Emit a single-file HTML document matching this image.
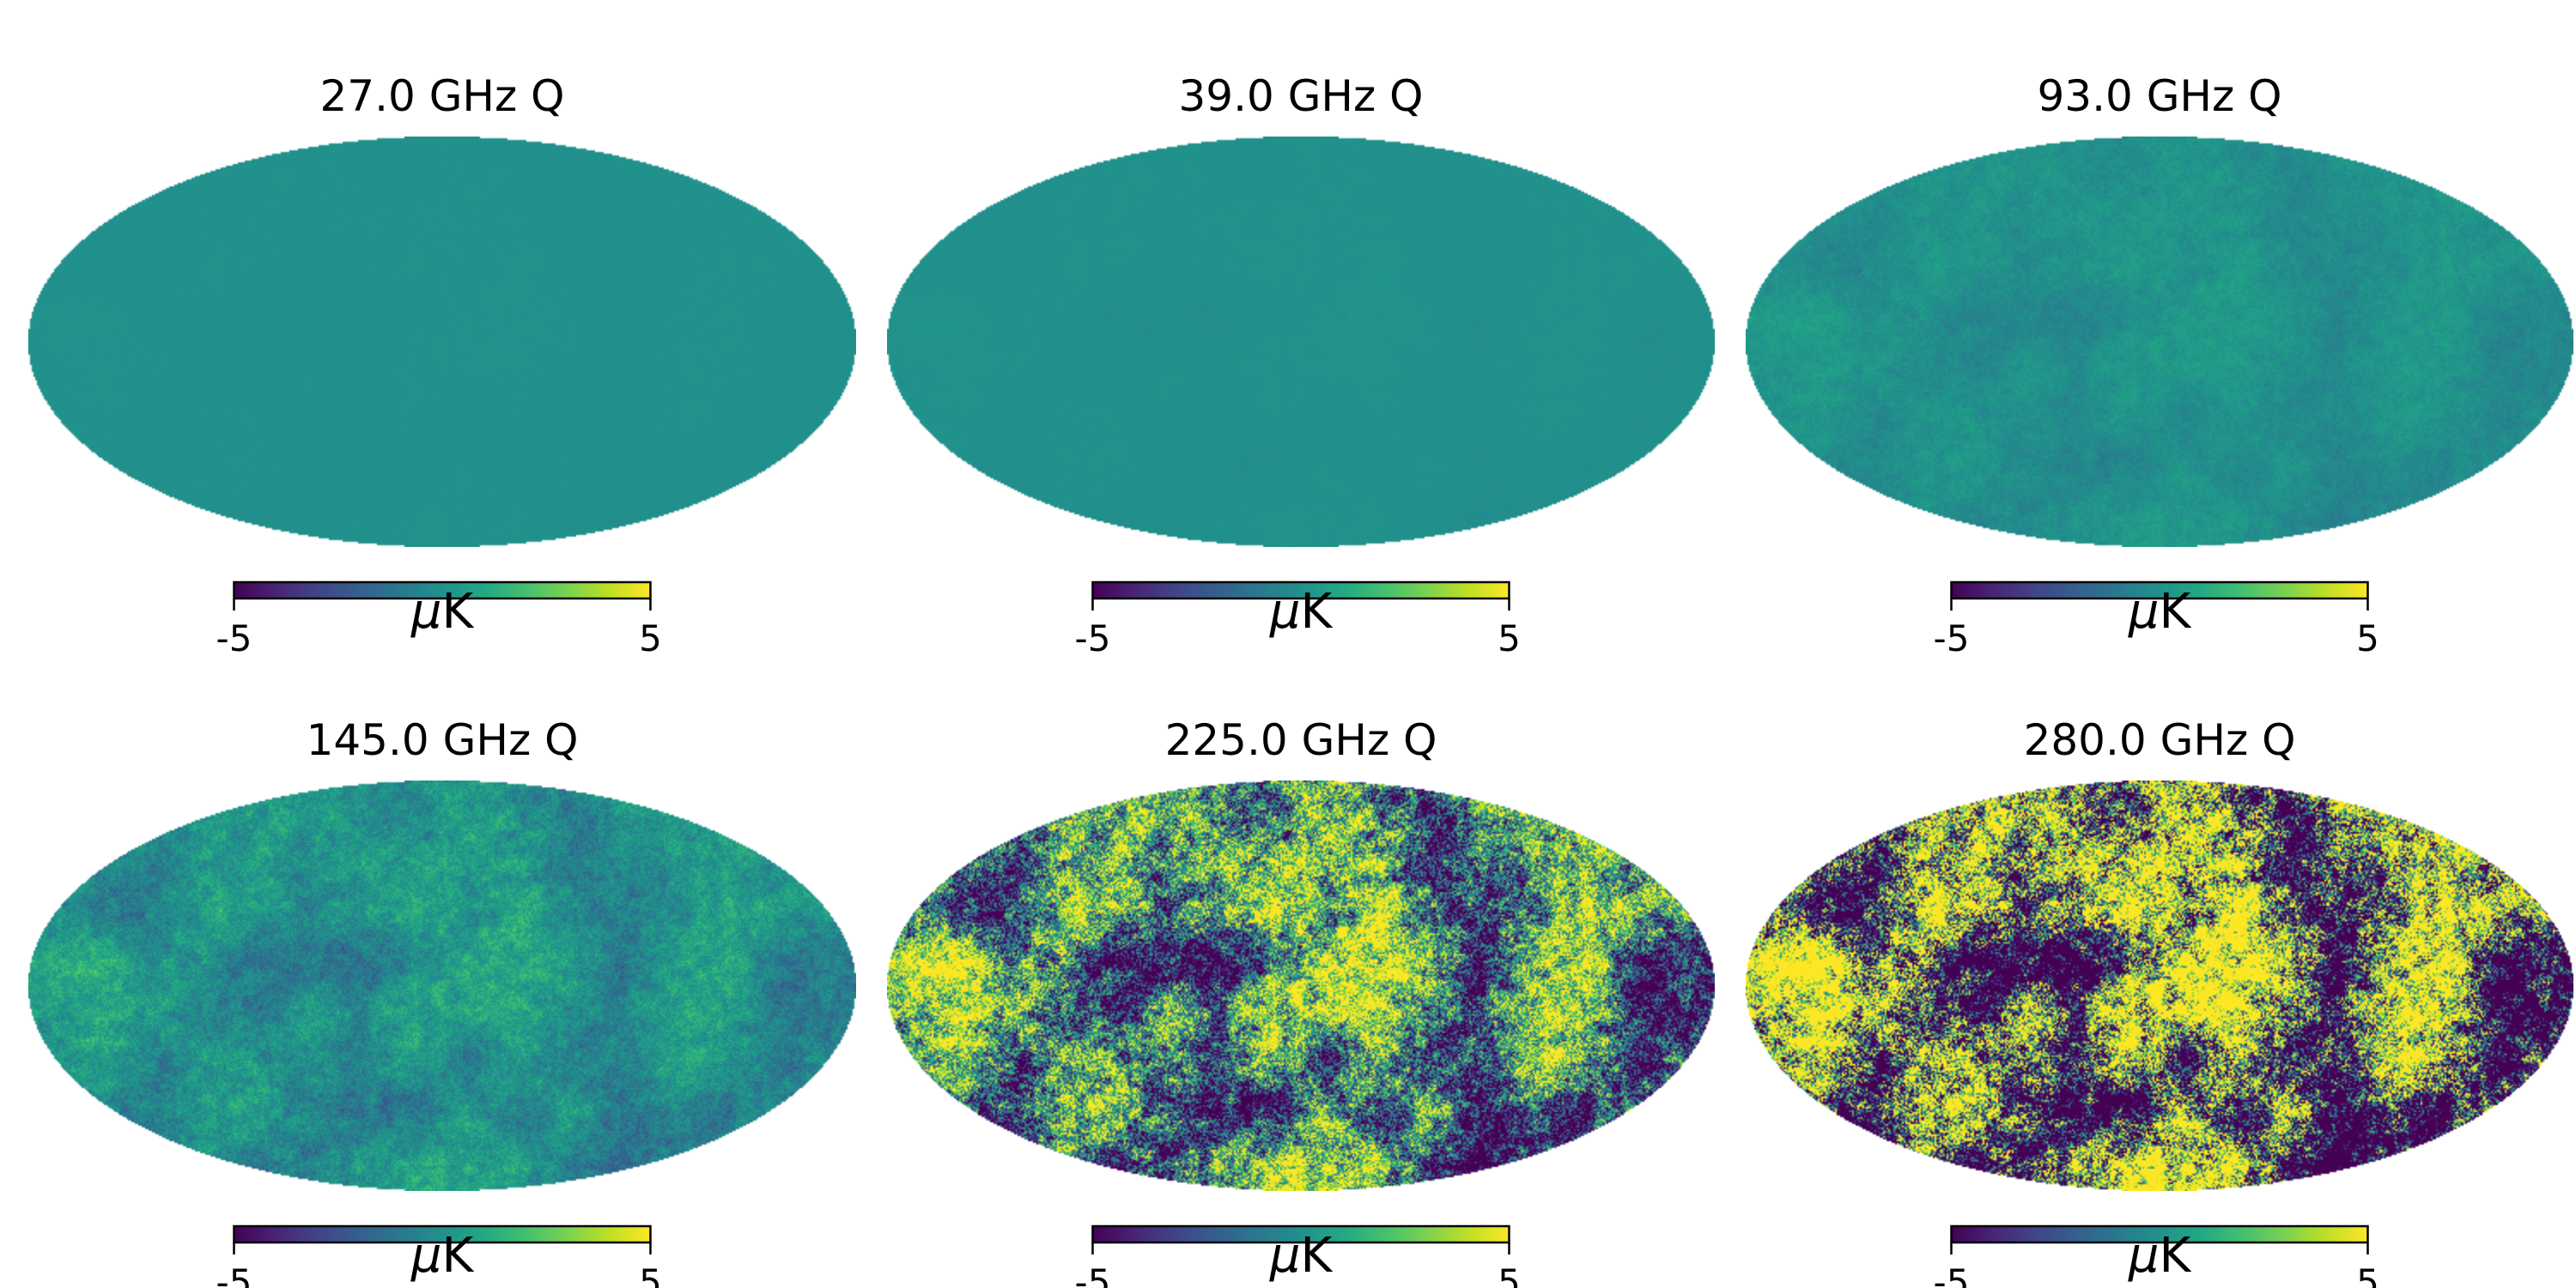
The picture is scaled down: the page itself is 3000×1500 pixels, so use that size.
<!DOCTYPE html>
<html><head><meta charset="utf-8">
<style>
html,body{margin:0;padding:0;background:#fff;}
#root{position:relative;width:3000px;height:1500px;overflow:hidden;background:#fff;}
canvas{position:absolute;}
svg{position:absolute;left:0;top:0;}
</style></head>
<body>
<div id="root">
<svg id="svg" width="3000" height="1500">
<defs>
<linearGradient id="viridis" x1="0" x2="1" y1="0" y2="0">
<stop offset="0" stop-color="#440154"/><stop offset="0.1" stop-color="#482475"/>
<stop offset="0.2" stop-color="#414487"/><stop offset="0.3" stop-color="#355f8d"/>
<stop offset="0.4" stop-color="#2a788e"/><stop offset="0.5" stop-color="#21918c"/>
<stop offset="0.6" stop-color="#22a884"/><stop offset="0.7" stop-color="#44bf70"/>
<stop offset="0.8" stop-color="#7ad151"/><stop offset="0.9" stop-color="#bddf26"/>
<stop offset="1" stop-color="#fde725"/>
</linearGradient>
</defs>
</svg>
</div>
<script>
// ---- data ----
const titles = ["27.0 GHz Q","39.0 GHz Q","93.0 GHz Q","145.0 GHz Q","225.0 GHz Q","280.0 GHz Q"];
const amplitudes = [0.02, 0.03, 0.15, 0.35, 1.8, 3.5];
const tickLabels = ["-5","5"];
const tickValues = [-5, 5];
const colorbarLabel = "\u03bcK";
// coarse sky pattern (normalized, 8 rows x 16 cols)
const skyRow0 = [0,0,0,0,0.3,0.3,0,-0.3,0.5,0,-0.5,0.3,0.5,0,0,0];
const skyRow1 = [0,0,-0.7,0.3,0.5,0,0.5,0.3,0.5,0.3,-0.8,-0.3,0,0.5,0,0];
const skyRow2 = [0,-0.8,-0.6,0.8,0.3,-0.3,0.2,0.8,0,0.8,-0.3,-0.8,0,0.8,0.3,0];
const skyRow3 = [0.8,0.8,0,0.2,-1,-1,-1,-0.3,0.6,0.8,0.3,-0.8,0.3,0.8,-0.8,-0.6];
const skyRow4 = [0.5,0.8,0.3,-0.3,-0.8,0.5,-0.3,0.8,0.5,0.8,0,-0.5,0.8,0.6,-0.8,-1];
const skyRow5 = [0,0.5,-0.5,0.3,0.3,0,-0.5,0.5,-0.5,0.5,-0.8,-0.3,0.5,0.3,-0.8,0];
const skyRow6 = [0,0,-0.8,0.5,0.3,-0.5,-0.8,-1,0.3,-0.6,0.5,-1,-0.5,-0.8,0,0];
const skyRow7 = [0,0,0,0,-0.6,-0.5,0.3,0.6,0.8,0.5,-0.8,-1,-0.5,0,0,0];
const sky = [skyRow0,skyRow1,skyRow2,skyRow3,skyRow4,skyRow5,skyRow6,skyRow7];
const vmin = -5, vmax = 5;

// ---- layout ----
const colCenters = [515,1515,2515];
const rowOffsets = [0,750];
const RX = 482, RY = 239, MAPCY = 398;
const CB_W = 485, CB_H = 19, CB_Y = 678;

const stops = [[68,1,84],[72,36,117],[65,68,135],[53,95,141],[42,120,142],[33,145,140],[34,168,132],[68,191,112],[122,209,81],[189,223,38],[253,231,37]];
function viridis(t){t=Math.max(0,Math.min(1,t));const f=t*10,i=Math.min(9,Math.floor(f)),r=f-i;const a=stops[i],b=stops[i+1];return [a[0]+(b[0]-a[0])*r,a[1]+(b[1]-a[1])*r,a[2]+(b[2]-a[2])*r];}
function hash(x,y){let h=x*374761393+y*668265263;h=(h^(h>>>13))*1274126177;h=h^(h>>>16);return ((h>>>0)%10000)/5000-1;}
function vnoise(x,y){const xi=Math.floor(x),yi=Math.floor(y),fx=x-xi,fy=y-yi;const sx=fx*fx*(3-2*fx),sy=fy*fy*(3-2*fy);
 const a=hash(xi,yi),b=hash(xi+1,yi),c=hash(xi,yi+1),d=hash(xi+1,yi+1);return a+(b-a)*sx+(c-a)*sy+(a-b-c+d)*sx*sy;}
function coarse(u,v){const c=(u+1)/2*16-0.5,r=(v+1)/2*8-0.5;const ci=Math.max(0,Math.min(14,Math.floor(c))),ri=Math.max(0,Math.min(6,Math.floor(r)));
 const fc=Math.max(0,Math.min(1,c-ci)),fr=Math.max(0,Math.min(1,r-ri));
 const a=sky[ri][ci],b=sky[ri][ci+1],cc=sky[ri+1][ci],d=sky[ri+1][ci+1];
 return (a*(1-fc)+b*fc)*(1-fr)+(cc*(1-fc)+d*fc)*fr;}

const svg=document.getElementById('svg');
const NS="http://www.w3.org/2000/svg";
function mk(tag,attrs){const e=document.createElementNS(NS,tag);for(const k in attrs)e.setAttribute(k,attrs[k]);svg.appendChild(e);return e;}
const root=document.getElementById('root');
const SC=2;
titles.forEach((title,i)=>{
 const cx=colCenters[i%3], oy=rowOffsets[Math.floor(i/3)];
 const cy=MAPCY+oy, amp=amplitudes[i];
 const cv=document.createElement('canvas');
 
 
 const W=Math.round(2*RX/SC),H=Math.round(2*RY/SC);
 cv.width=W;cv.height=H;
 cv.style.left=(cx-RX)+'px';cv.style.top=(cy-RY)+'px';cv.style.width=(2*RX)+'px';cv.style.height=(2*RY)+'px';
 const ctx=cv.getContext('2d');const img=ctx.createImageData(W,H);
 for(let y=0;y<H;y++)for(let x=0;x<W;x++){
  const u=(x+0.5)/W*2-1,v=(y+0.5)/H*2-1;if(u*u+v*v>1)continue;
  const f=0.7*coarse(u,v)+0.35*vnoise(x/8,y/8)+0.3*vnoise(x/3+50,y/3+50)+0.5*hash(x,y);
  const val=amp*f*5;
  const c=viridis((val-vmin)/(vmax-vmin));const p=(y*W+x)*4;
  img.data[p]=c[0];img.data[p+1]=c[1];img.data[p+2]=c[2];img.data[p+3]=255;}
 ctx.putImageData(img,0,0);
 root.insertBefore(cv,svg);
 const t=mk('text',{x:cx,y:129+oy,'text-anchor':'middle','font-family':'"DejaVu Sans","Liberation Sans",sans-serif','font-size':50,fill:'#000'});
 t.textContent=title;
 
 
 const x0=cx-CB_W/2, y0=CB_Y+oy;
 const r=mk('rect',{x:x0,y:y0,width:CB_W,height:CB_H,fill:'url(#viridis)',stroke:'#000','stroke-width':2.5});
 
 
 tickValues.forEach((tv,k)=>{
  const tx=x0+(tv-vmin)/(vmax-vmin)*CB_W;
  const ln=mk('line',{x1:tx,x2:tx,y1:y0+CB_H,y2:y0+CB_H+14,stroke:'#000','stroke-width':2.5});
  
  
  const lb=mk('text',{x:tx,y:y0+80,'text-anchor':'middle','font-family':'"DejaVu Sans","Liberation Sans",sans-serif','font-size':42,fill:'#000'});
  lb.textContent=tickLabels[k];
  
  
 });
 const ul=mk('text',{x:cx,y:y0+53,'text-anchor':'middle','font-family':'"DejaVu Sans","Liberation Sans",sans-serif','font-size':56,fill:'#000'});
 ul.innerHTML='<tspan font-style="italic">\u03bc</tspan>K';
 
 
});
</script>
</body></html>
